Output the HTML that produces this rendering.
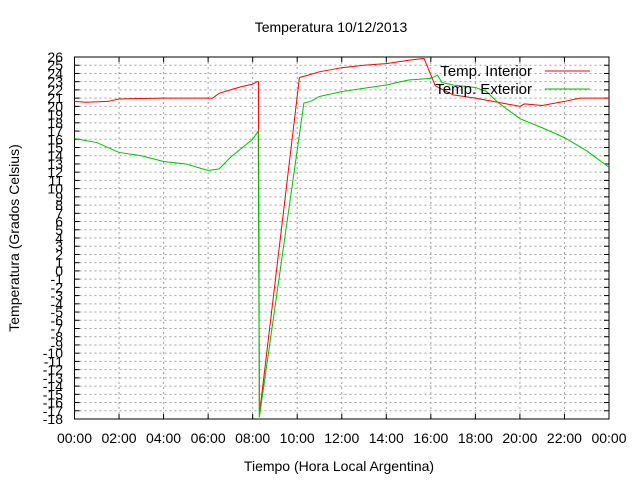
<!DOCTYPE html>
<html><head><meta charset="utf-8"><style>
body{margin:0;background:#fff}
svg{display:block;font-family:"Liberation Sans",sans-serif}
</style></head><body>
<svg id="c" width="640" height="480" viewBox="0 0 640 480">
<text x="331" y="32" font-size="14" text-anchor="middle">Temperatura 10/12/2013</text>
<text x="339" y="471" font-size="14" text-anchor="middle">Tiempo (Hora Local Argentina)</text>
<text transform="translate(19,238) rotate(-90)" font-size="14" text-anchor="middle">Temperatura (Grados Celsius)</text>
<g id="grid"></g><g id="axes"></g><g id="series"></g>
<g>
<text x="532" y="76" font-size="15" text-anchor="end">Temp. Interior</text>
<line x1="545" y1="71" x2="590" y2="71" stroke="#ff0000"/>
<text x="532" y="94" font-size="15" text-anchor="end">Temp. Exterior</text>
<line x1="545" y1="89" x2="590" y2="89" stroke="#00c000"/>
</g>
</svg>
<script>
const xTicks=["00:00","02:00","04:00","06:00","08:00","10:00","12:00","14:00","16:00","18:00","20:00","22:00","00:00"];
const yMin=-18, yMax=26;
const interiorHours=[0,0.5,1.5,2,4,5,6.2,6.5,7,7.5,8,8.2,8.26,8.3,10.1,10.5,11,12,13,14,15,15.6,15.7,16.2,17,18,19,20,20.2,21,22,22.7,24];
const interiorTemps=[20.6,20.5,20.6,20.9,21.0,21.0,21.0,21.6,22.0,22.4,22.7,23.0,23.0,-17.5,23.5,23.8,24.2,24.7,25.0,25.2,25.6,25.8,25.8,22.5,21.4,21.0,20.5,20.0,20.3,20.1,20.6,21.0,21.0];
const exteriorHours=[0,1,2,3,4,5,6,6.5,7,8,8.25,8.3,10.3,10.6,11,12,13,14,15,16,16.3,16.5,17,18,18.5,19,20,21,22,23,24];
const exteriorTemps=[16.1,15.6,14.4,14.0,13.3,13.0,12.2,12.4,13.8,16.0,17.0,-17.8,20.4,20.6,21.2,21.8,22.2,22.6,23.2,23.4,23.8,22.9,22.6,22.3,21.8,20.5,18.5,17.4,16.2,14.6,12.6];
const L=74.5,R=609,T=57,B=419;
const X=h=>L+(R-L)*h/24, Y=v=>B-(B-T)*(v-yMin)/(yMax-yMin);
const NS="http://www.w3.org/2000/svg";
function mk(t,a,p){const e=document.createElementNS(NS,t);for(const k in a)e.setAttribute(k,a[k]);p.appendChild(e);return e;}
const grid=document.getElementById('grid'),axes=document.getElementById('axes'),ser=document.getElementById('series');
for(let v=yMin;v<=yMax;v++){
 const y=Y(v);
 if(v>yMin&&v<yMax){const g=mk('line',{x1:L,x2:R,y1:y,y2:y,stroke:'#a0a0a0','stroke-dasharray':'2,3','stroke-width':1},grid);
 
 }
 const t=mk('text',{x:63,y:y+5,'font-size':14,'text-anchor':'end'},axes);t.textContent=v;
 
 
 mk('line',{x1:L,x2:L+5,y1:y,y2:y,stroke:'#000'},axes);
 mk('line',{x1:R,x2:R-5,y1:y,y2:y,stroke:'#000'},axes);
}
xTicks.forEach((s,i)=>{
 const x=X(i*2);
 if(i>0&&i<xTicks.length-1){const g=mk('line',{x1:x,x2:x,y1:T,y2:B,stroke:'#a0a0a0','stroke-dasharray':'2,3'},grid);
 
 }
 mk('line',{x1:x,x2:x,y1:B,y2:B-5,stroke:'#000'},axes);
 mk('line',{x1:x,x2:x,y1:T,y2:T+5,stroke:'#000'},axes);
 const t=mk('text',{x:x,y:443,'font-size':14,'text-anchor':'middle'},axes);t.textContent=s;
 
 
});
const fr=mk('rect',{x:L,y:T,width:R-L,height:B-T,fill:'none',stroke:'#000'},axes);


function line(hs,vs,c,n){const p=mk('polyline',{points:hs.map((h,i)=>X(h)+','+Y(vs[i])).join(' '),fill:'none',stroke:c,'stroke-width':1},ser);
 
 }
line(interiorHours,interiorTemps,'#ff0000','series-interior');
line(exteriorHours,exteriorTemps,'#00c000','series-exterior');
</script>
</body></html>
